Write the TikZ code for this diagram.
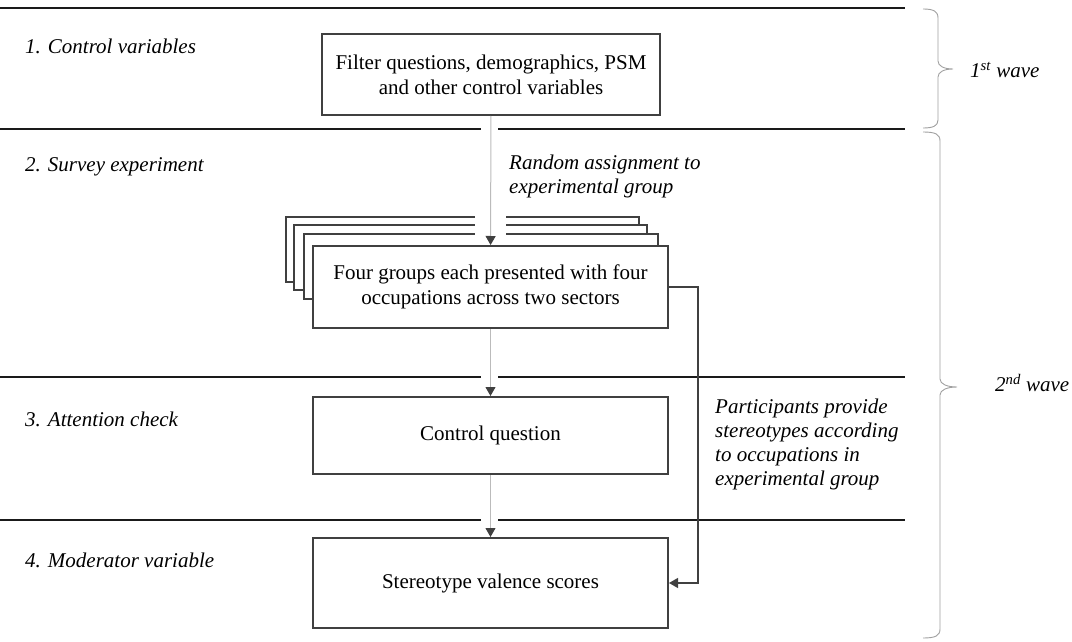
\documentclass[tikz,border=0pt]{standalone}
\usepackage{fontspec}
\setmainfont{Liberation Serif}
\usetikzlibrary{arrows.meta,positioning}

\definecolor{boxgray}{HTML}{404040}
\definecolor{rulegray}{HTML}{1A1A1A}
\definecolor{flowgray}{HTML}{BBBBBB}
\definecolor{bracegray}{HTML}{A0A0A0}

\tikzset{
  stagebox/.style={draw=boxgray, line width=2pt, fill=white, align=center,
    inner sep=0pt, font=\fontsize{21}{25}\selectfont},
  backbox/.style={draw=boxgray, line width=2pt, fill=white},
  sectionrule/.style={draw=rulegray, line width=2.4pt},
  flow/.style={draw=flowgray, line width=1pt, -{Triangle[length=9pt,width=10pt,color=boxgray]}},
  feedback/.style={draw=boxgray, line width=1.3pt, -{Triangle[length=9pt,width=10pt]}},
  stagelabel/.style={anchor=west, inner sep=0pt, font=\fontsize{21}{25}\selectfont\itshape},
  note/.style={anchor=west, align=left, inner sep=0pt, font=\fontsize{21}{24}\selectfont\itshape},
  wavebrace/.style={draw=bracegray, line width=0.9pt},
}

\begin{document}
\begin{tikzpicture}[x=1pt,y=-1pt]
  \useasboundingbox (0,0) rectangle (1072,642);

  % section rules
  \draw[sectionrule] (0,8) -- (905,8);
  \foreach \ry in {129,377,520} {
    \draw[sectionrule] (0,\ry) -- (481,\ry);
    \draw[sectionrule] (498,\ry) -- (905,\ry);
  }

  % section labels
  \node[stagelabel] (lab1) at (25,46) {1. Control variables};
  \node[stagelabel] (lab2) at (25,167) {2. Survey experiment};
  \node[stagelabel] (lab3) at (25,419) {3. Attention check};
  \node[stagelabel] (lab4) at (25,560) {4. Moderator variable};

  % stages
  \node[stagebox, minimum width=338, minimum height=81] (filter) at (491,74.5)
    {Filter questions, demographics, PSM\\and other control variables};

  \draw[backbox] (286,217) rectangle (639,282);
  \draw[backbox] (294,225) rectangle (647,290);
  \draw[backbox] (304,234) rectangle (658,299);
  \fill[white] (475,210) rectangle (506,241);
  \node[stagebox, minimum width=355, minimum height=82] (groups) at (490.5,287)
    {Four groups each presented with four\\occupations across two sectors};

  \node[stagebox, minimum width=355, minimum height=77] (check) at (490.5,435.5)
    {Control question};
  \node[stagebox, minimum width=355, minimum height=90] (valence) at (490.5,583)
    {Stereotype valence scores};

  % connectors
  \draw[flow] (filter) -- (groups);
  \draw[flow] (groups) -- (check);
  \draw[flow] (check) -- (valence);
  \draw[feedback] (groups.east) -- ++(29,0) |- (valence.east);

  % notes
  \node[note] (assign) at (509,176) {Random assignment to\\experimental group};
  \node[note] (provide) at (715,444) {Participants provide\\stereotypes according\\to occupations in\\experimental group};

  % waves
  \draw[wavebrace] (923,9) .. controls (933,9) and (938,11) .. (938,18) -- (938,61)
    .. controls (938,66) and (944,69) .. (953,69)
    .. controls (944,69) and (938,72) .. (938,77) -- (938,120)
    .. controls (938,126) and (933,128) .. (923,128);
  \draw[wavebrace] (923,132) .. controls (935,132) and (940,134) .. (940,141) -- (940,379)
    .. controls (940,384) and (947,387) .. (957,387)
    .. controls (947,387) and (940,390) .. (940,395) -- (940,629)
    .. controls (940,636) and (935,638) .. (923,638);
  \node[stagelabel] (wave1) at (970,70) {1\textsuperscript{st} wave};
  \node[stagelabel] (wave2) at (995,383) {2\textsuperscript{nd} wave};
\end{tikzpicture}
\end{document}
